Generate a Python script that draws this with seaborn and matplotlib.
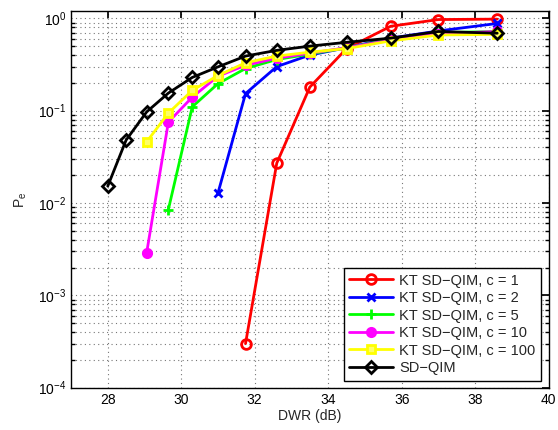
import numpy as np
import pandas as pd
import matplotlib
matplotlib.use("Agg")
import matplotlib.pyplot as plt
import seaborn as sns
from matplotlib.ticker import LogLocator, NullFormatter

# DWR grid (dB)
dwr = [28.0, 28.5, 29.06, 29.65, 30.3, 31.0, 31.75, 32.6, 33.5, 34.5, 35.7, 37.0, 38.6]

pe_c1 = [3.0e-4, 0.027, 0.18, 0.47, 0.82, 0.97, 0.98]
pe_c2 = [0.0128, 0.153, 0.30, 0.40, 0.48, 0.61, 0.73, 0.88]
pe_c5 = [0.0085, 0.11, 0.196, 0.286, 0.358, 0.41, 0.48, 0.59, 0.70, 0.72]
pe_c10 = [0.0029, 0.075, 0.14, 0.236, 0.31, 0.37, 0.42, 0.48, 0.58, 0.68, 0.72]
pe_c100 = [0.046, 0.094, 0.166, 0.24, 0.33, 0.39, 0.43, 0.47, 0.57, 0.66, 0.67]
pe_sdqim = [0.0152, 0.048, 0.097, 0.155, 0.229, 0.298, 0.39, 0.45, 0.50, 0.55, 0.61, 0.72, 0.69]

labels = ["KT SD\u2212QIM, c = 1", "KT SD\u2212QIM, c = 2", "KT SD\u2212QIM, c = 5",
          "KT SD\u2212QIM, c = 10", "KT SD\u2212QIM, c = 100", "SD\u2212QIM"]
series = [pe_c1, pe_c2, pe_c5, pe_c10, pe_c100, pe_sdqim]

styles = [
    dict(color="#ff0000", marker="o", mfc="none", ms=7),
    dict(color="#0000ff", marker="x", mfc="#0000ff", ms=5.5),
    dict(color="#00ff00", marker="+", mfc="#00ff00", ms=7),
    dict(color="#ff00ff", marker="o", mfc="#ff00ff", ms=6),
    dict(color="#ffff00", marker="s", mfc="#ffff66", ms=6),
    dict(color="#000000", marker="D", mfc="none", ms=6),
]

sns.set_theme(style="white")
plt.rcParams['font.family'] = ['Liberation Sans', 'DejaVu Sans']
plt.rcParams['mathtext.fontset'] = 'custom'
plt.rcParams['mathtext.rm'] = 'Liberation Sans'
plt.rcParams['mathtext.it'] = 'Liberation Sans:italic'
plt.rcParams['mathtext.default'] = 'regular'

fig = plt.figure(figsize=(5.58, 4.30), dpi=100)
ax = fig.add_axes([0.1272, 0.0984, 0.8561, 0.876])

for lab, ys, st in zip(labels, series, styles):
    xs = dwr[len(dwr) - len(ys):]
    df = pd.DataFrame({"DWR": xs, "Pe": ys})
    sns.lineplot(data=df, x="DWR", y="Pe", ax=ax, color=st["color"], lw=2,
                 marker=st["marker"], markersize=st["ms"], markerfacecolor=st["mfc"],
                 markeredgecolor=st["color"], markeredgewidth=2, label=lab,
                 estimator=None, sort=False)

ax.set_yscale("log")
ax.set_xlim(27, 40)
ax.set_ylim(1e-4, 1.2)
ax.set_xticks([28, 30, 32, 34, 36, 38, 40])
ax.yaxis.set_major_locator(LogLocator(base=10, numticks=10))
ax.yaxis.set_minor_locator(LogLocator(base=10, subs=np.arange(2, 10), numticks=20))
ax.yaxis.set_minor_formatter(NullFormatter())

ax.grid(True, which="major", axis="both", color="#777777", linestyle=(0, (1, 3)), lw=0.8)
ax.grid(True, which="minor", axis="y", color="#777777", linestyle=(0, (1, 3)), lw=0.8)

for s in ax.spines.values():
    s.set_color("black")
    s.set_linewidth(1.0)
ax.tick_params(which="both", direction="in", top=True, right=True, labelsize=10, colors="black")
ax.tick_params(which="major", length=5)
ax.tick_params(which="minor", length=3, left=True, right=True)
ax.tick_params(axis="x", which="minor", bottom=False, top=False)

ax.set_xlabel("DWR (dB)", fontsize=10, labelpad=2)
ax.set_ylabel("$P_e$", fontsize=10, labelpad=6)

leg = ax.legend(loc="lower right", bbox_to_anchor=(0.984, 0.018), borderaxespad=0,
                fontsize=10.5, frameon=True, fancybox=False, framealpha=1,
                edgecolor="black", handlelength=3.0, labelspacing=0.24,
                borderpad=0.4, handletextpad=0.4)
leg.get_frame().set_linewidth(1.0)

fig.savefig("out.png", dpi=100, facecolor="white")
